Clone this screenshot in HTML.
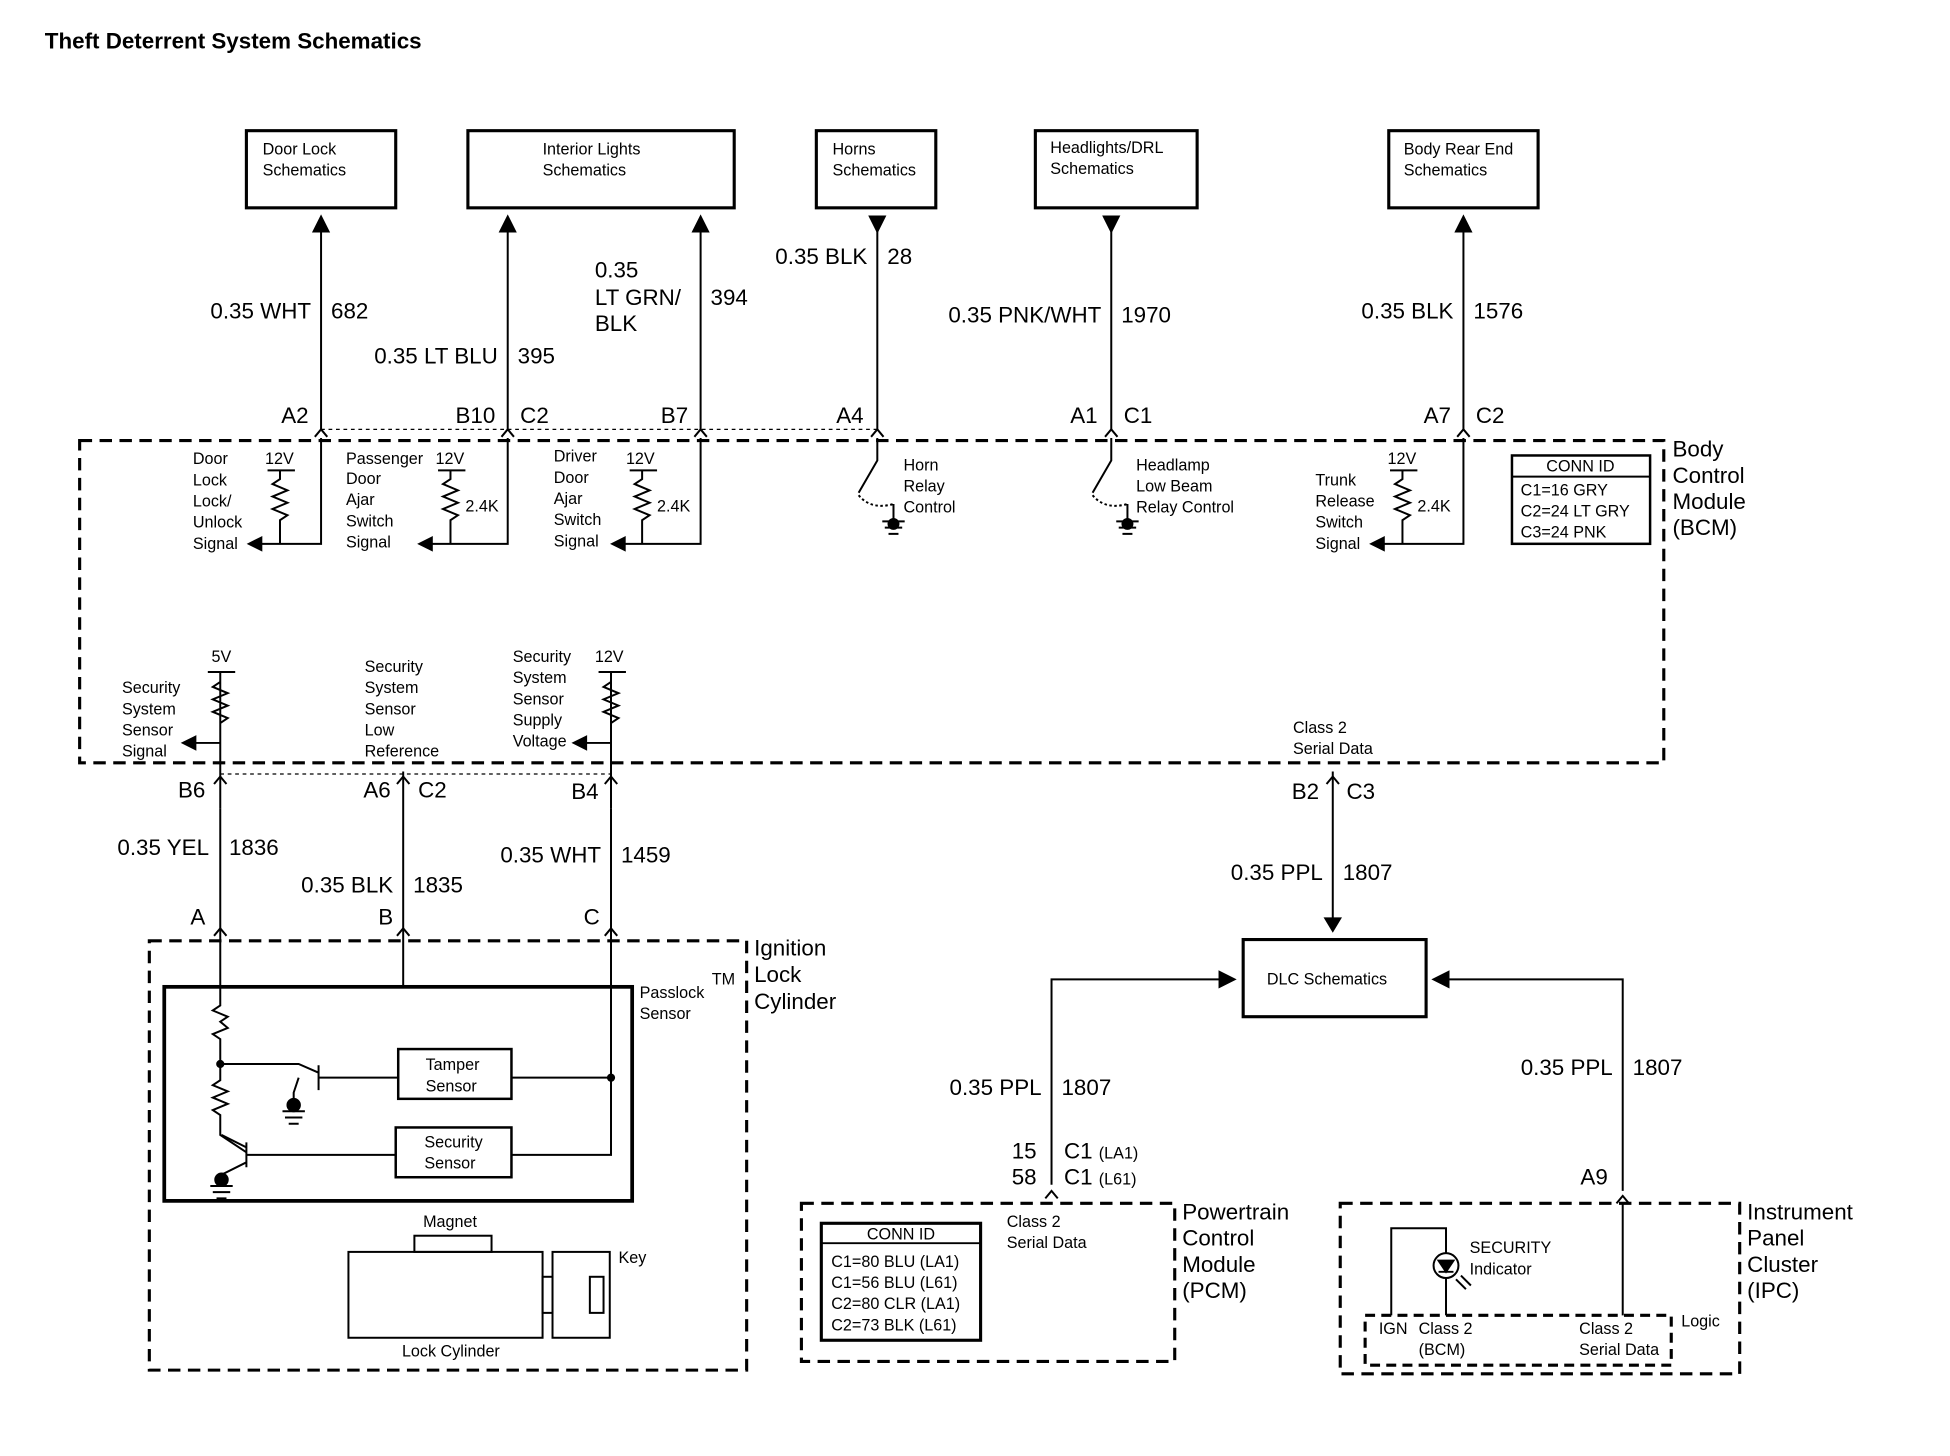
<!DOCTYPE html>
<html><head><meta charset="utf-8"><style>
html,body{margin:0;padding:0;background:#fff;}
svg{display:block;}
text{font-family:"Liberation Sans",Arial,sans-serif;fill:#000;}
.s{font-size:13px;}
.m{font-size:18px;}
.e{text-anchor:end;}
</style></head><body>
<svg width="1950" height="1456" viewBox="0 0 1567 1170" xmlns="http://www.w3.org/2000/svg">
<g fill="none" stroke="#000" stroke-width="1.6">
<rect x="198" y="105" width="120" height="62" stroke-width="2.5"/>
<rect x="376" y="105" width="214" height="62" stroke-width="2.5"/>
<rect x="656" y="105" width="96" height="62" stroke-width="2.5"/>
<rect x="832" y="105" width="130" height="62" stroke-width="2.5"/>
<rect x="1116" y="105" width="120" height="62" stroke-width="2.5"/>
<path d="M258,345 V180 M408,345 V180 M563,345 V180 M705,345 V180 M893,345 V180 M1176,345 V180"/>
<path d="M252,186 L258,174 L264,186 z M402,186 L408,174 L414,186 z M557,186 L563,174 L569,186 z M1170,186 L1176,174 L1182,186 z M699,174 L705,186 L711,174 z M887,174 L893,186 L899,174 z" fill="#000"/>
<path d="M253,351 L258,345 L263,351 M403,351 L408,345 L413,351 M558,351 L563,345 L568,351 M700,351 L705,345 L710,351 M888,351 L893,345 L898,351 M1171,351 L1176,345 L1181,351"/>
<path d="M258,345 H705" stroke-dasharray="3,3" stroke-width="1"/>
<rect x="64" y="354" width="1273" height="259" stroke-width="2.5" stroke-dasharray="10,6"/>
<rect x="1215" y="366" width="111" height="71" stroke-width="2"/>
<path d="M1215,383 H1326"/>
<path d="M258,352 V437 H208"/>
<path d="M225,378 V385 l-6,4 l12,5 l-12,5 l12,5 l-12,5 l12,5 l-6,4 V437 M215,378 H237"/>
<path d="M408,352 V437 H345"/>
<path d="M362,378 V385 l-6,4 l12,5 l-12,5 l12,5 l-12,5 l12,5 l-6,4 V437 M352,378 H374"/>
<path d="M563,352 V437 H500"/>
<path d="M516,378 V385 l-6,4 l12,5 l-12,5 l12,5 l-12,5 l12,5 l-6,4 V437 M506,378 H528"/>
<path d="M1176,352 V437 H1110"/>
<path d="M1127,378 V385 l-6,4 l12,5 l-12,5 l12,5 l-12,5 l12,5 l-6,4 V437 M1117,378 H1139"/>
<path d="M210,432 L200,437 L210,442 z M347,432 L337,437 L347,442 z M502,432 L492,437 L502,442 z M1112,432 L1102,437 L1112,442 z" fill="#000"/>
<path d="M705,352 V370 L690,396 M718,405 V418 M709,419 H727 M711,424 H725 M714,429 H722"/>
<path d="M690,398 Q700,410 718,405" stroke-dasharray="2,2"/>
<circle cx="718" cy="421" r="4" fill="#000"/>
<path d="M893,352 V370 L878,396 M906,405 V418 M897,419 H915 M899,424 H913 M902,429 H910"/>
<path d="M878,398 Q888,410 906,405" stroke-dasharray="2,2"/>
<circle cx="906" cy="421" r="4" fill="#000"/>
<path d="M177,650 V540 M167,540 H189 M177,548 l-6,4 l12,5 l-12,5 l12,5 l-12,5 l12,5 l-6,4 M177,597 H155"/>
<path d="M491,650 V540 M481,540 H503 M491,548 l-6,4 l12,5 l-12,5 l12,5 l-12,5 l12,5 l-6,4 M491,597 H469"/>
<path d="M157,592 L147,597 L157,602 z M471,592 L461,597 L471,602 z" fill="#000"/>
<path d="M324,620 V793"/>
<path d="M177,650 V746 M491,650 V746"/>
<path d="M172,630 L177,624 L182,630 M319,630 L324,624 L329,630 M486,630 L491,624 L496,630 M1066,630 L1071,624 L1076,630"/>
<path d="M177,622 H491" stroke-dasharray="3,3" stroke-width="1"/>
<path d="M1071,620 V740"/>
<path d="M1065,738 L1071,748 L1077,738 z" fill="#000"/>
<path d="M172,752 L177,746 L182,752 M319,752 L324,746 L329,752 M486,752 L491,746 L496,752"/>
<rect x="120" y="756" width="480" height="345" stroke-width="2.5" stroke-dasharray="10,6"/>
<rect x="132" y="793" width="376" height="172" stroke-width="3"/>
<path d="M177,746 V808 l-6,4 l12,5 l-6,4 l6,5 l-12,5 l6,4 V855 V868 l-6,4 l12,5 l-12,5 l12,5 l-12,5 l6,4 V912 L198,926 M177,855 H240 L256,862 M256,856 V876 M240,866 L236,878 V888 M227,893 H245 M229,898 H243 M232,903 H240"/>
<path d="M198,918 V938 M198,928 H318 M178,912 L198,922 M198,934 L178,944 V948 M169,953 H187 M171,958 H185 M174,963 H182"/>
<circle cx="236" cy="888" r="5" fill="#000"/><circle cx="178" cy="948" r="5" fill="#000"/><circle cx="177" cy="855" r="2.5" fill="#000"/><circle cx="491" cy="866" r="2.5" fill="#000"/>
<path d="M256,866 H320 M411,866 H491 M491,746 V928 H411"/>
<rect x="320" y="843" width="91" height="40" stroke-width="2"/>
<rect x="318" y="906" width="93" height="40" stroke-width="2"/>
<rect x="333" y="993" width="62" height="13"/>
<rect x="280" y="1006" width="156" height="69"/>
<rect x="436" y="1026" width="8" height="29"/>
<rect x="444" y="1006" width="46" height="69"/>
<rect x="474" y="1026" width="11" height="29"/>
<rect x="999" y="755" width="147" height="62" stroke-width="2.5"/>
<path d="M845,952 V787 H982 M1304,957 V787 H1162"/>
<path d="M980,781 L992,787 L980,793 z M1164,781 L1152,787 L1164,793 z" fill="#000"/>
<path d="M840,963 L845,957 L850,963 M1299,967 L1304,961 L1309,967"/>
<rect x="644" y="967" width="300" height="127" stroke-width="2.5" stroke-dasharray="10,6"/>
<rect x="660" y="983" width="128" height="94" stroke-width="2.5"/>
<path d="M660,999 H788"/>
<rect x="1077" y="967" width="321" height="137" stroke-width="2.5" stroke-dasharray="10,6"/>
<rect x="1097" y="1057" width="246" height="40" stroke-width="2.5" stroke-dasharray="8,5"/>
<path d="M1118,1057 V987 H1162 V1007 M1162,1027 V1057 M1304,967 V1057"/>
<circle cx="1162" cy="1017" r="10"/>
<path d="M1156,1013 H1168 L1162,1022 z M1156,1022 H1168" fill="#000"/>
<path d="M1170,1028 l8,8 M1174,1025 l8,8"/>
</g>
<text x="36" y="39" style="font-size:18px;font-weight:bold">Theft Deterrent System Schematics</text>
<g class="s">
<text x="211" y="124">Door Lock</text><text x="211" y="141">Schematics</text>
<text x="436" y="124">Interior Lights</text><text x="436" y="141">Schematics</text>
<text x="669" y="124">Horns</text><text x="669" y="141">Schematics</text>
<text x="844" y="123">Headlights/DRL</text><text x="844" y="140">Schematics</text>
<text x="1128" y="124">Body Rear End</text><text x="1128" y="141">Schematics</text>
<text x="1270" y="379" text-anchor="middle">CONN ID</text>
<text x="1222" y="398">C1=16 GRY</text><text x="1222" y="415">C2=24 LT GRY</text><text x="1222" y="432">C3=24 PNK</text>
<text x="155" y="373">Door</text><text x="155" y="390">Lock</text><text x="155" y="407">Lock/</text><text x="155" y="424">Unlock</text><text x="155" y="441">Signal</text>
<text x="213" y="373">12V</text><text x="350" y="373">12V</text><text x="503" y="373">12V</text><text x="1115" y="373">12V</text>
<text x="374" y="411">2.4K</text><text x="528" y="411">2.4K</text><text x="1139" y="411">2.4K</text>
<text x="278" y="373">Passenger</text><text x="278" y="389">Door</text><text x="278" y="406">Ajar</text><text x="278" y="423">Switch</text><text x="278" y="440">Signal</text>
<text x="445" y="371">Driver</text><text x="445" y="388">Door</text><text x="445" y="405">Ajar</text><text x="445" y="422">Switch</text><text x="445" y="439">Signal</text>
<text x="726" y="378">Horn</text><text x="726" y="395">Relay</text><text x="726" y="412">Control</text>
<text x="913" y="378">Headlamp</text><text x="913" y="395">Low Beam</text><text x="913" y="412">Relay Control</text>
<text x="1057" y="390">Trunk</text><text x="1057" y="407">Release</text><text x="1057" y="424">Switch</text><text x="1057" y="441">Signal</text>
<text x="170" y="532">5V</text><text x="478" y="532">12V</text>
<text x="98" y="557">Security</text><text x="98" y="574">System</text><text x="98" y="591">Sensor</text><text x="98" y="608">Signal</text>
<text x="293" y="540">Security</text><text x="293" y="557">System</text><text x="293" y="574">Sensor</text><text x="293" y="591">Low</text><text x="293" y="608">Reference</text>
<text x="412" y="532">Security</text><text x="412" y="549">System</text><text x="412" y="566">Sensor</text><text x="412" y="583">Supply</text><text x="412" y="600">Voltage</text>
<text x="1039" y="589">Class 2</text><text x="1039" y="606">Serial Data</text>
<text x="514" y="802">Passlock</text><text x="514" y="819">Sensor</text>
<text x="342" y="860">Tamper</text><text x="342" y="877">Sensor</text>
<text x="341" y="922">Security</text><text x="341" y="939">Sensor</text>
<text x="340" y="986">Magnet</text><text x="497" y="1015">Key</text><text x="323" y="1090">Lock Cylinder</text>
<text x="1018" y="791">DLC Schematics</text>
<text x="809" y="986">Class 2</text><text x="809" y="1003">Serial Data</text>
<text x="724" y="996" text-anchor="middle">CONN ID</text>
<text x="668" y="1018">C1=80 BLU (LA1)</text><text x="668" y="1035">C1=56 BLU (L61)</text><text x="668" y="1052">C2=80 CLR (LA1)</text><text x="668" y="1069">C2=73 BLK (L61)</text>
<text x="1181" y="1007">SECURITY</text><text x="1181" y="1024">Indicator</text>
<text x="1108" y="1072">IGN</text><text x="1140" y="1072">Class 2</text><text x="1140" y="1089">(BCM)</text>
<text x="1269" y="1072">Class 2</text><text x="1269" y="1089">Serial Data</text><text x="1351" y="1066">Logic</text>
<text x="572" y="791">TM</text>
</g>
<g class="m">
<text class="e" x="250" y="256">0.35 WHT</text><text x="266" y="256">682</text>
<text class="e" x="400" y="292">0.35 LT BLU</text><text x="416" y="292">395</text>
<text x="478" y="223">0.35</text><text x="478" y="245">LT GRN/</text><text x="478" y="266">BLK</text><text x="571" y="245">394</text>
<text class="e" x="697" y="212">0.35 BLK</text><text x="713" y="212">28</text>
<text class="e" x="885" y="259">0.35 PNK/WHT</text><text x="901" y="259">1970</text>
<text class="e" x="1168" y="256">0.35 BLK</text><text x="1184" y="256">1576</text>
<text class="e" x="248" y="340">A2</text><text class="e" x="398" y="340">B10</text><text x="418" y="340">C2</text>
<text class="e" x="553" y="340">B7</text><text class="e" x="694" y="340">A4</text>
<text class="e" x="882" y="340">A1</text><text x="903" y="340">C1</text>
<text class="e" x="1166" y="340">A7</text><text x="1186" y="340">C2</text>
<text x="1344" y="367">Body</text><text x="1344" y="388">Control</text><text x="1344" y="409">Module</text><text x="1344" y="430">(BCM)</text>
<text class="e" x="165" y="641">B6</text><text class="e" x="314" y="641">A6</text><text x="336" y="641">C2</text>
<text class="e" x="481" y="642">B4</text><text class="e" x="1060" y="642">B2</text><text x="1082" y="642">C3</text>
<text class="e" x="168" y="687">0.35 YEL</text><text x="184" y="687">1836</text>
<text class="e" x="316" y="717">0.35 BLK</text><text x="332" y="717">1835</text>
<text class="e" x="483" y="693">0.35 WHT</text><text x="499" y="693">1459</text>
<text class="e" x="1063" y="707">0.35 PPL</text><text x="1079" y="707">1807</text>
<text class="e" x="165" y="743">A</text><text class="e" x="316" y="743">B</text><text class="e" x="482" y="743">C</text>
<text x="606" y="768">Ignition</text><text x="606" y="789">Lock</text><text x="606" y="811">Cylinder</text>
<text class="e" x="837" y="880">0.35 PPL</text><text x="853" y="880">1807</text>
<text class="e" x="1296" y="864">0.35 PPL</text><text x="1312" y="864">1807</text>
<text class="e" x="833" y="931">15</text><text x="855" y="931">C1 <tspan style="font-size:13px">(LA1)</tspan></text>
<text class="e" x="833" y="952">58</text><text x="855" y="952">C1 <tspan style="font-size:13px">(L61)</tspan></text>
<text class="e" x="1292" y="952">A9</text>
<text x="950" y="980">Powertrain</text><text x="950" y="1001">Control</text><text x="950" y="1022">Module</text><text x="950" y="1043">(PCM)</text>
<text x="1404" y="980">Instrument</text><text x="1404" y="1001">Panel</text><text x="1404" y="1022">Cluster</text><text x="1404" y="1043">(IPC)</text>
</g>
</svg>
</body></html>
